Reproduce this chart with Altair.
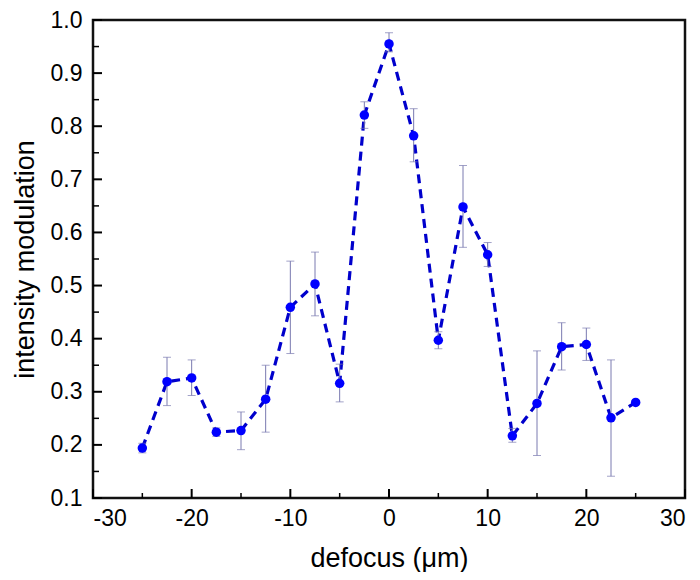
import altair as alt
import pandas as pd

defocus = [-25, -22.5, -20, -17.5, -15, -12.5, -10, -7.5, -5, -2.5, 0, 2.5, 5, 7.5, 10, 12.5, 15, 17.5, 20, 22.5, 25]
modulation = [0.194, 0.319, 0.326, 0.224, 0.227, 0.286, 0.459, 0.503, 0.316, 0.821, 0.955, 0.782, 0.397, 0.648, 0.558, 0.217, 0.278, 0.385, 0.389, 0.251, 0.280]
err_low = [0.185, 0.274, 0.293, 0.216, 0.191, 0.224, 0.372, 0.443, 0.281, 0.796, 0.940, 0.733, 0.381, 0.572, 0.536, 0.205, 0.180, 0.341, 0.359, 0.141, None]
err_high = [0.203, 0.365, 0.360, 0.232, 0.262, 0.350, 0.546, 0.563, 0.352, 0.846, 0.976, 0.833, 0.413, 0.726, 0.581, 0.231, 0.377, 0.430, 0.420, 0.360, None]

x_major = [-30, -20, -10, 0, 10, 20, 30]
x_minor = [-25, -15, -5, 5, 15, 25]
y_major = [0.1, 0.2, 0.3, 0.4, 0.5, 0.6, 0.7, 0.8, 0.9, 1.0]
y_minor = [0.15, 0.25, 0.35, 0.45, 0.55, 0.65, 0.75, 0.85, 0.95]

W, H = 592, 478

df = pd.DataFrame({"x": defocus, "y": modulation, "lo": err_low, "hi": err_high})
df_err = df.dropna()

xs = alt.Scale(domain=[-30, 30], nice=False)
ys = alt.Scale(domain=[0.1, 1.0], nice=False, zero=False)

font = "Liberation Sans"

x_axis = alt.Axis(values=x_major, labelExpr="'' + datum.value", ticks=False, domain=False, grid=False,
                  labelFontSize=23, labelColor="#000", labelPadding=9, labelFont=font,
                  title="defocus (μm)", titleFontSize=27, titleFont=font, titleFontWeight="normal",
                  titleColor="#000", titlePadding=15)
y_axis = alt.Axis(values=y_major, format=".1f", ticks=False, domain=False, grid=False,
                  labelFontSize=23, labelColor="#000", labelPadding=11, labelFont=font,
                  title="intensity modulation", titleFontSize=27, titleFont=font, titleFontWeight="normal",
                  titleColor="#000", titlePadding=11)

ebar_color = "#7a7ab0"


def X(field):
    return alt.X(field, scale=xs, axis=x_axis)


def Y(field):
    return alt.Y(field, scale=ys, axis=y_axis)


pts = alt.Chart(df).mark_circle(color="#0000ff", size=90, opacity=1).encode(x=X("x:Q"), y=Y("y:Q"))
line = alt.Chart(df).mark_line(color="#0000cc", strokeWidth=3.2, strokeDash=[9, 6]).encode(x=X("x:Q"), y=Y("y:Q"))

err_rule = alt.Chart(df_err).mark_rule(color=ebar_color, strokeWidth=1).encode(
    x=X("x:Q"), y=Y("lo:Q"), y2="hi:Q")
cap_lo = alt.Chart(df_err).mark_tick(color=ebar_color, thickness=1, size=8, orient="horizontal").encode(
    x=X("x:Q"), y=Y("lo:Q"))
cap_hi = alt.Chart(df_err).mark_tick(color=ebar_color, thickness=1, size=8, orient="horizontal").encode(
    x=X("x:Q"), y=Y("hi:Q"))

xt_major = alt.Chart(pd.DataFrame({"t": x_major})).mark_rule(color="#000", strokeWidth=2).encode(
    x=X("t:Q"), y=alt.value(H), y2=alt.value(H - 9))
xt_minor = alt.Chart(pd.DataFrame({"t": x_minor})).mark_rule(color="#000", strokeWidth=1.5).encode(
    x=X("t:Q"), y=alt.value(H), y2=alt.value(H - 5))
yt_major = alt.Chart(pd.DataFrame({"t": y_major})).mark_rule(color="#000", strokeWidth=2).encode(
    y=Y("t:Q"), x=alt.value(0), x2=alt.value(9))
yt_minor = alt.Chart(pd.DataFrame({"t": y_minor})).mark_rule(color="#000", strokeWidth=1.5).encode(
    y=Y("t:Q"), x=alt.value(0), x2=alt.value(6))

chart = alt.layer(line, err_rule, cap_lo, cap_hi, pts, xt_major, xt_minor, yt_major, yt_minor).properties(
    width=W, height=H,
    background="white",
    autosize=alt.AutoSizeParams(type="none"),
    padding={"left": 85, "top": 12, "right": 7, "bottom": 74},
).configure_view(stroke="#111", strokeWidth=2.5)

chart.save("out.html", embed_options={"renderer": "svg", "actions": False})
